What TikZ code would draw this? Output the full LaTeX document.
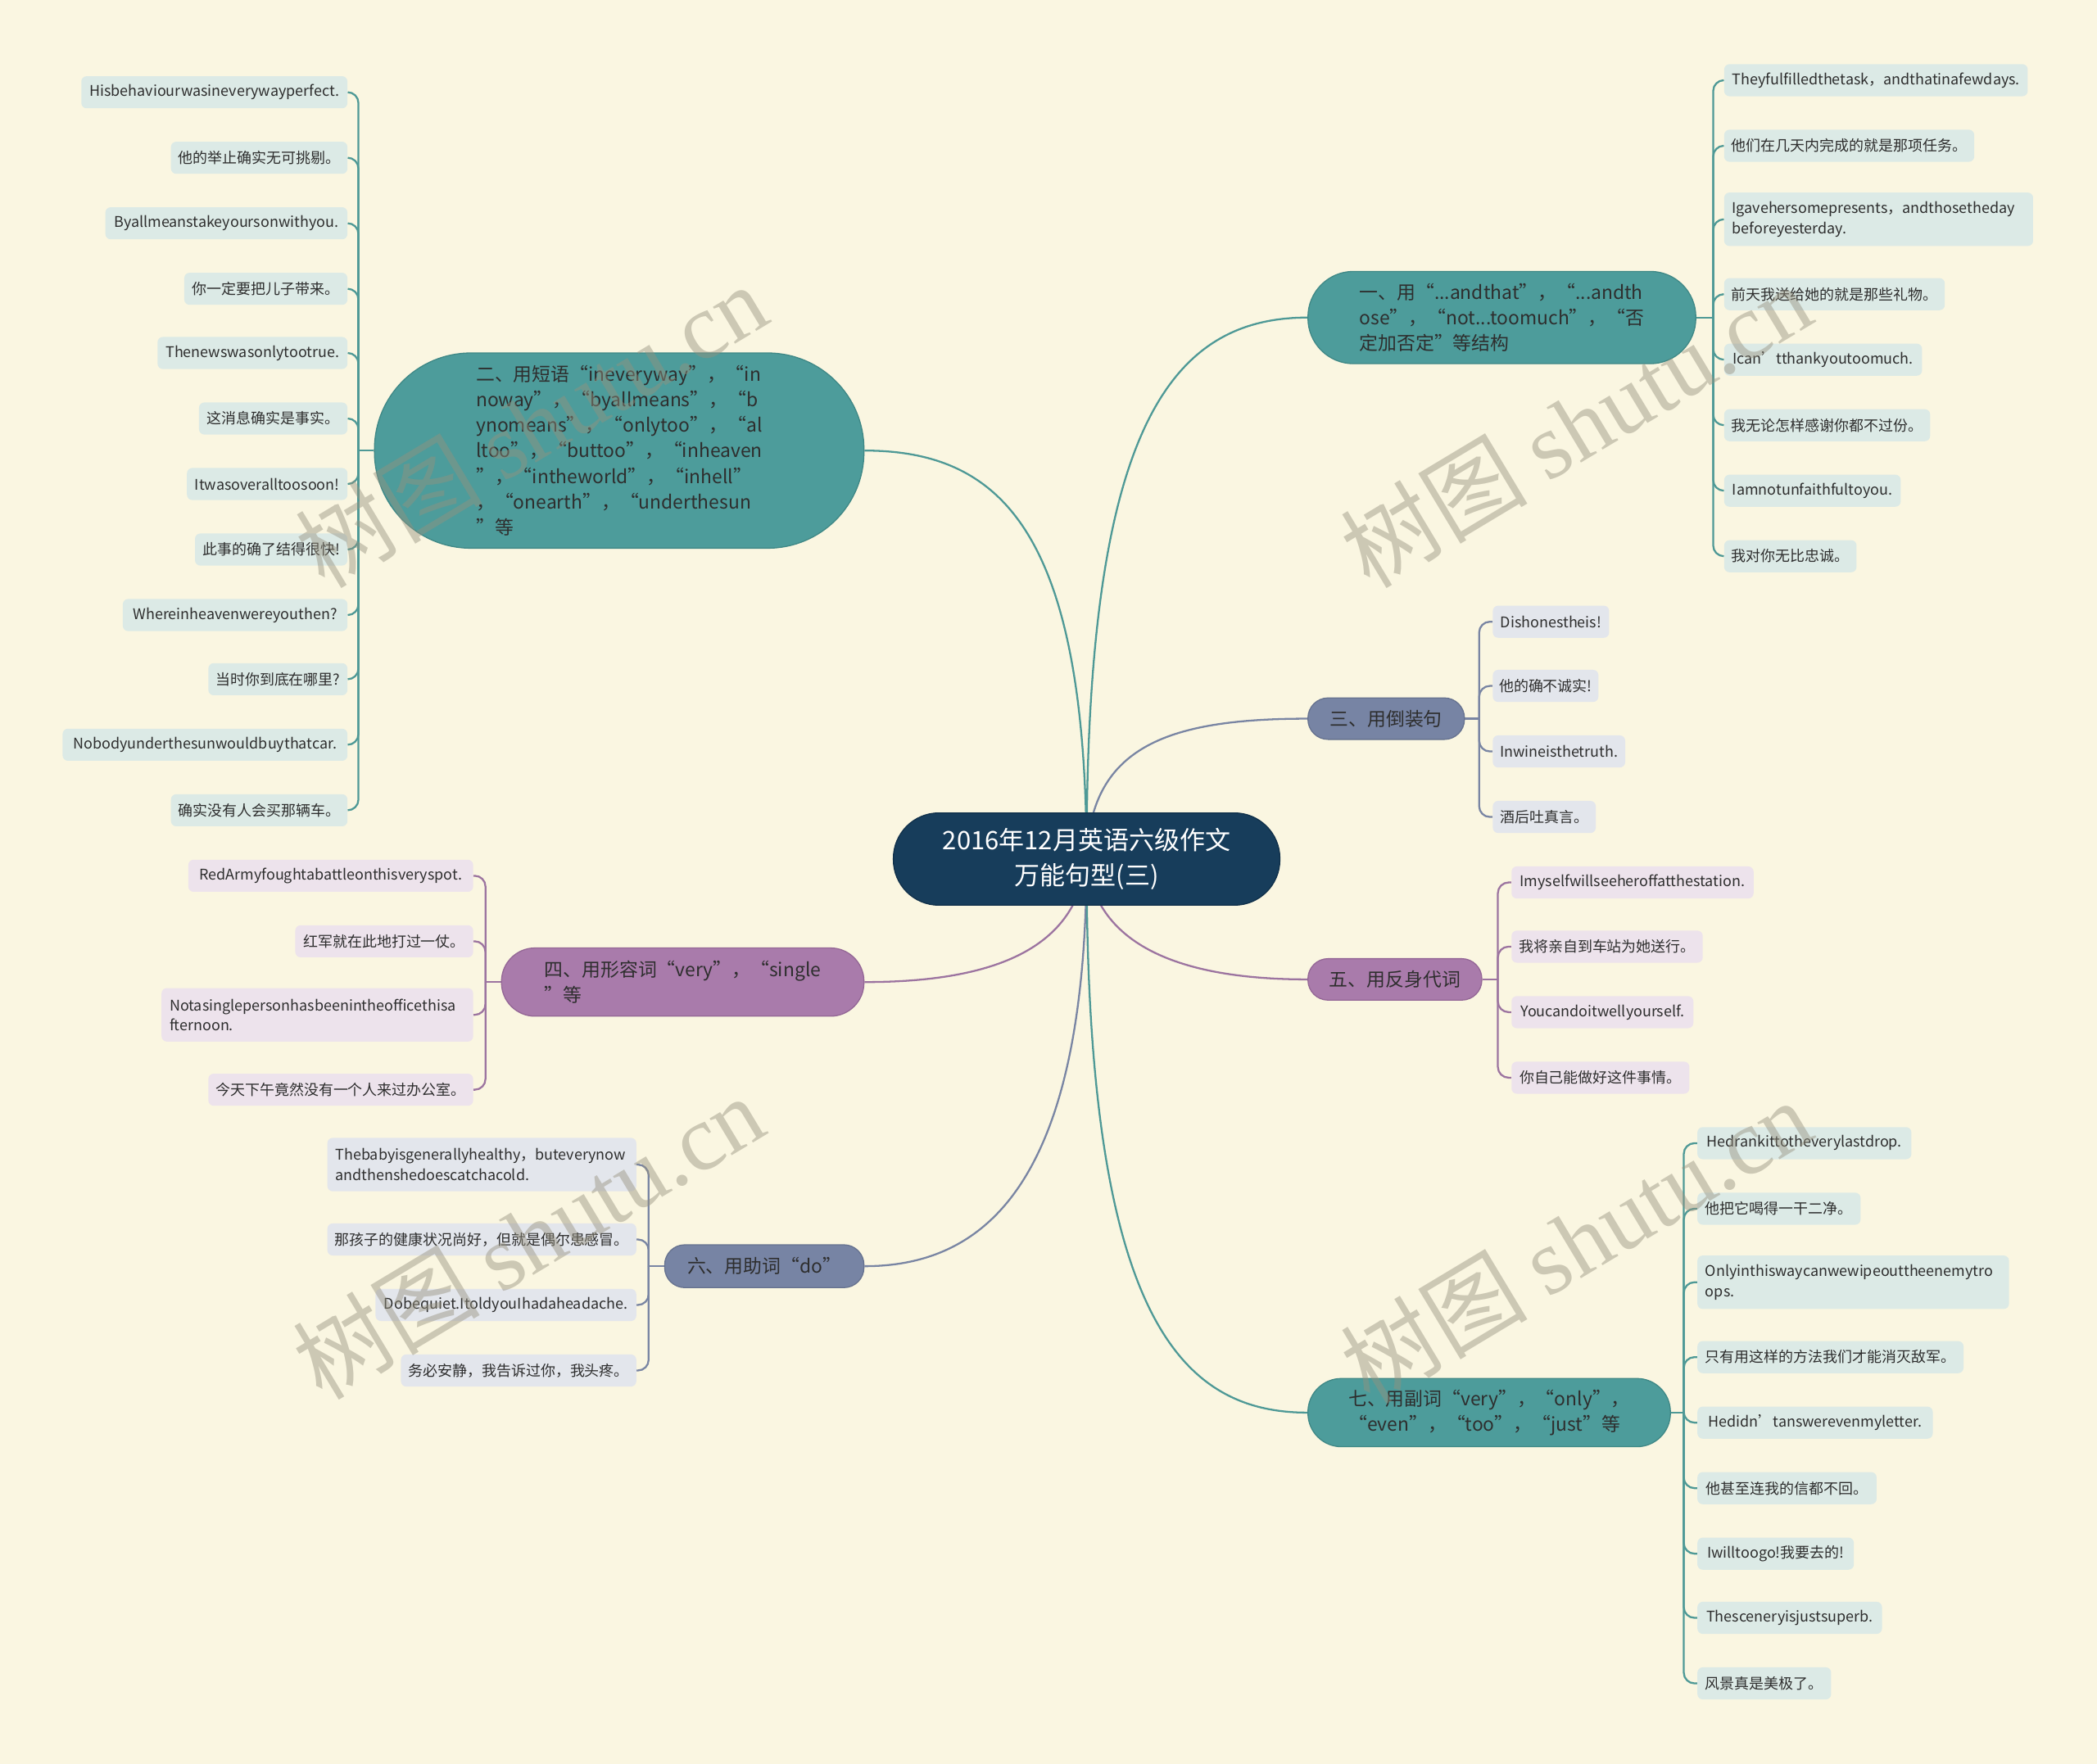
\documentclass[tikz,border=0pt]{standalone}
\usepackage{fontspec}
\setmainfont{Noto Sans CJK SC}
\newfontfamily\wmlatin{Liberation Serif}
\pgfdeclarelayer{bgl}
\pgfdeclarelayer{edgel}
\pgfsetlayers{bgl,edgel,main}
\definecolor{bgc}{HTML}{FAF6E1}
\definecolor{rootc}{HTML}{173D5B}
\definecolor{rootd}{HTML}{10304A}
\definecolor{brTc}{HTML}{4D9C9B}
\definecolor{brTd}{HTML}{3F8886}
\definecolor{brSc}{HTML}{7784A4}
\definecolor{brSd}{HTML}{66728F}
\definecolor{brPc}{HTML}{A97BAB}
\definecolor{brPd}{HTML}{946796}
\definecolor{lfT}{HTML}{DCEAE6}
\definecolor{lfS}{HTML}{E3E6EC}
\definecolor{lfP}{HTML}{EDE3EC}
\definecolor{lnT}{HTML}{4E9996}
\definecolor{lnS}{HTML}{7985A3}
\definecolor{lnP}{HTML}{9C74A0}
\definecolor{txtc}{HTML}{2E2E2E}
\definecolor{wmc}{RGB}{150,145,126}
\begin{document}
\begin{tikzpicture}[x=1pt,y=-1pt,
  rootbox/.style={fill=rootc, draw=rootd, line width=0.8pt, rounded corners=34pt,
    minimum width=289pt, minimum height=69pt, inner sep=0pt, text=white, align=center,
    font=\fontsize{19}{26}\selectfont},
  brbase/.style={line width=0.8pt, inner sep=0pt, align=left, text=txtc,
    font=\fontsize{14}{19}\selectfont},
  brT/.style={brbase, fill=brTc, draw=brTd},
  brS/.style={brbase, fill=brSc, draw=brSd},
  brP/.style={brbase, fill=brPc, draw=brPd},
  leafbase/.style={rounded corners=4pt, minimum height=24pt, inner sep=0pt, text=txtc,
    font=\fontsize{11}{15}\selectfont},
  lT/.style={leafbase, fill=lfT},
  lS/.style={leafbase, fill=lfS},
  lP/.style={leafbase, fill=lfP},
  twol/.style={minimum height=40pt, text width=#1, align=left},
  eT/.style={draw=lnT, line width=1.4pt},
  eS/.style={draw=lnS, line width=1.4pt},
  eP/.style={draw=lnP, line width=1.4pt},
  lk/.style={rounded corners=8pt},
  wm/.style={text=wmc, opacity=0.45, font=\fontsize{70}{70}\selectfont, inner sep=0pt}
]
\useasboundingbox (0,0) rectangle (1568,1319.3);
\begin{pgfonlayer}{bgl}
\fill[bgc] (0,0) rectangle (1568,1319.3);
\end{pgfonlayer}

% root
\node[rootbox] (root) at (812.5,642.5) {2016年12月英语六级作文\\万能句型(三)};

% branches
\node[brT, minimum width=290pt, minimum height=69pt, rounded corners=34pt] (b1) at (1123,237.5)
  {一、用“...andthat”，“...andth\\ose”，“not...toomuch”，“否\\定加否定”等结构};
\node[brT, minimum width=366pt, minimum height=146pt, rounded corners=72pt] (b2) at (463,337)
  {二、用短语“ineveryway”，“in\\noway”，“byallmeans”，“b\\ynomeans”，“onlytoo”，“al\\ltoo”，“buttoo”，“inheaven\\”，“intheworld”，“inhell”\\，“onearth”，“underthesun\\”等};
\node[brS, minimum width=117pt, minimum height=31pt, rounded corners=15pt] (b3) at (1036.5,537.5) {三、用倒装句};
\node[brP, minimum width=271pt, minimum height=51pt, rounded corners=25pt] (b4) at (510.5,734.5)
  {四、用形容词“very”，“single\\”等\hspace{120pt}};
\node[brP, minimum width=130pt, minimum height=31pt, rounded corners=15pt] (b5) at (1043,732.5) {五、用反身代词};
\node[brS, minimum width=149pt, minimum height=32pt, rounded corners=15pt] (b6) at (571.5,947) {六、用助词“do”};
\node[brT, minimum width=271pt, minimum height=51pt, rounded corners=25pt] (b7) at (1113.5,1056.5)
  {七、用副词“very”，“only”，\\“even”，“too”，“just”等};

% junctions
\coordinate (j1) at (1281,237.5);
\coordinate (j2) at (268,337);
\coordinate (j3) at (1106,537.5);
\coordinate (j4) at (363,734.5);
\coordinate (j5) at (1120,732.5);
\coordinate (j6) at (485,947);
\coordinate (j7) at (1259,1056.5);

% branch 1 leaves
\node[lT, anchor=west, minimum width=227pt] (a1) at (1289,60) {Theyfulfilledthetask，andthatinafewdays.};
\node[lT, anchor=west, minimum width=187pt] (a2) at (1289,109) {他们在几天内完成的就是那项任务。};
\node[lT, anchor=west, minimum width=231pt, twol=219pt] (a3) at (1289,164) {Igavehersomepresents，andthosetheday\\beforeyesterday.};
\node[lT, anchor=west, minimum width=165pt] (a4) at (1289,220) {前天我送给她的就是那些礼物。};
\node[lT, anchor=west, minimum width=148pt] (a5) at (1289,269) {Ican’tthankyoutoomuch.};
\node[lT, anchor=west, minimum width=154pt] (a6) at (1289,318) {我无论怎样感谢你都不过份。};
\node[lT, anchor=west, minimum width=132pt] (a7) at (1289,367) {Iamnotunfaithfultoyou.};
\node[lT, anchor=west, minimum width=99pt] (a8) at (1289,416) {我对你无比忠诚。};

% branch 2 leaves
\node[lT, anchor=east, minimum width=199pt] (c1) at (260,69) {Hisbehaviourwasineverywayperfect.};
\node[lT, anchor=east, minimum width=132pt] (c2) at (260,118) {他的举止确实无可挑剔。};
\node[lT, anchor=east, minimum width=181pt] (c3) at (260,167) {Byallmeanstakeyoursonwithyou.};
\node[lT, anchor=east, minimum width=122pt] (c4) at (260,216) {你一定要把儿子带来。};
\node[lT, anchor=east, minimum width=142pt] (c5) at (260,264) {Thenewswasonlytootrue.};
\node[lT, anchor=east, minimum width=111pt] (c6) at (260,313) {这消息确实是事实。};
\node[lT, anchor=east, minimum width=120pt] (c7) at (260,362) {Itwasoveralltoosoon!};
\node[lT, anchor=east, minimum width=114pt] (c8) at (260,411) {此事的确了结得很快!};
\node[lT, anchor=east, minimum width=168pt] (c9) at (260,460) {Whereinheavenwereyouthen?};
\node[lT, anchor=east, minimum width=104pt] (c10) at (260,508) {当时你到底在哪里?};
\node[lT, anchor=east, minimum width=213pt] (c11) at (260,557) {Nobodyunderthesunwouldbuythatcar.};
\node[lT, anchor=east, minimum width=132pt] (c12) at (260,606) {确实没有人会买那辆车。};

% branch 3 leaves
\node[lS, anchor=west, minimum width=87pt] (d1) at (1116,465) {Dishonestheis!};
\node[lS, anchor=west, minimum width=79pt] (d2) at (1116,513) {他的确不诚实!};
\node[lS, anchor=west, minimum width=99pt] (d3) at (1116,562) {Inwineisthetruth.};
\node[lS, anchor=west, minimum width=77pt] (d4) at (1116,611) {酒后吐真言。};

% branch 4 leaves
\node[lP, anchor=east, minimum width=213pt] (f1) at (354,655) {RedArmyfoughtabattleonthisveryspot.};
\node[lP, anchor=east, minimum width=133pt] (f2) at (354,704) {红军就在此地打过一仗。};
\node[lP, anchor=east, minimum width=233pt, twol=221pt] (f3) at (354,759) {Notasinglepersonhasbeenintheofficethisa\\fternoon.};
\node[lP, anchor=east, minimum width=198pt] (f4) at (354,815) {今天下午竟然没有一个人来过办公室。};

% branch 5 leaves
\node[lP, anchor=west, minimum width=181pt] (g1) at (1130,660) {Imyselfwillseeheroffatthestation.};
\node[lP, anchor=west, minimum width=143pt] (g2) at (1130,708) {我将亲自到车站为她送行。};
\node[lP, anchor=west, minimum width=136pt] (g3) at (1130,757) {Youcandoitwellyourself.};
\node[lP, anchor=west, minimum width=133pt] (g4) at (1130,806) {你自己能做好这件事情。};

% branch 6 leaves
\node[lS, anchor=east, minimum width=231pt, twol=219pt] (h1) at (476,871) {Thebabyisgenerallyhealthy，buteverynow\\andthenshedoescatchacold.};
\node[lS, anchor=east, minimum width=231pt] (h2) at (476,927) {那孩子的健康状况尚好，但就是偶尔患感冒。};
\node[lS, anchor=east, minimum width=195pt] (h3) at (476,976) {Dobequiet.ItoldyouIhadaheadache.};
\node[lS, anchor=east, minimum width=176pt] (h4) at (476,1025) {务必安静，我告诉过你，我头疼。};

% branch 7 leaves
\node[lT, anchor=west, minimum width=160pt] (k1) at (1269,855) {Hedrankittotheverylastdrop.};
\node[lT, anchor=west, minimum width=122pt] (k2) at (1269,904) {他把它喝得一干二净。};
\node[lT, anchor=west, minimum width=233pt, twol=221pt] (k3) at (1269,959) {Onlyinthiswaycanwewipeouttheenemytro\\ops.};
\node[lT, anchor=west, minimum width=199pt] (k4) at (1269,1015) {只有用这样的方法我们才能消灭敌军。};
\node[lT, anchor=west, minimum width=176pt] (k5) at (1269,1064) {Hedidn’tanswerevenmyletter.};
\node[lT, anchor=west, minimum width=134pt] (k6) at (1269,1113) {他甚至连我的信都不回。};
\node[lT, anchor=west, minimum width=117pt] (k7) at (1269,1162) {Iwilltoogo!我要去的!};
\node[lT, anchor=west, minimum width=138pt] (k8) at (1269,1210) {Thesceneryisjustsuperb.};
\node[lT, anchor=west, minimum width=100pt] (k9) at (1269,1259) {风景真是美极了。};

\begin{pgfonlayer}{edgel}
% main edges
\draw[eT] (root.center) .. controls (812,330) and (870,237.5) .. (b1.west);
\draw[eT] (root.center) .. controls (812,400) and (750,337) .. (b2.east);
\draw[eS] (root.center) .. controls (815,560) and (870,537.5) .. (b3.west);
\draw[eP] (root.center) .. controls (806,700) and (760,734.5) .. (b4.east);
\draw[eP] (root.center) .. controls (818,700) and (870,732.5) .. (b5.west);
\draw[eS] (root.center) .. controls (812,880) and (740,947) .. (b6.east);
\draw[eT] (root.center) .. controls (812,980) and (880,1056.5) .. (b7.west);
% stubs
\draw[eT] (b1.east) -- (j1);
\draw[eT] (b2.west) -- (j2);
\draw[eS] (b3.east) -- (j3);
\draw[eP] (b4.west) -- (j4);
\draw[eP] (b5.east) -- (j5);
\draw[eS] (b6.west) -- (j6);
\draw[eT] (b7.east) -- (j7);
% leaf links
\foreach \n in {a1,a2,a3,a4,a5,a6,a7,a8} \draw[eT,lk] (j1) |- (\n.west);
\foreach \n in {c1,c2,c3,c4,c5,c6,c7,c8,c9,c10,c11,c12} \draw[eT,lk] (j2) |- (\n.east);
\foreach \n in {d1,d2,d3,d4} \draw[eS,lk] (j3) |- (\n.west);
\foreach \n in {f1,f2,f3,f4} \draw[eP,lk] (j4) |- (\n.east);
\foreach \n in {g1,g2,g3,g4} \draw[eP,lk] (j5) |- (\n.west);
\foreach \n in {h1,h2,h3,h4} \draw[eS,lk] (j6) |- (\n.east);
\foreach \n in {k1,k2,k3,k4,k5,k6,k7,k8,k9} \draw[eT,lk] (j7) |- (\n.west);
\end{pgfonlayer}

% watermarks
\node[wm, rotate=31] (w1) at (397,318) {树图 {\wmlatin shutu.cn}};
\node[wm, rotate=31] (w2) at (1178,318) {树图 {\wmlatin shutu.cn}};
\node[wm, rotate=31] (w3) at (395,925) {树图 {\wmlatin shutu.cn}};
\node[wm, rotate=31] (w4) at (1178,928) {树图 {\wmlatin shutu.cn}};
\end{tikzpicture}
\end{document}
